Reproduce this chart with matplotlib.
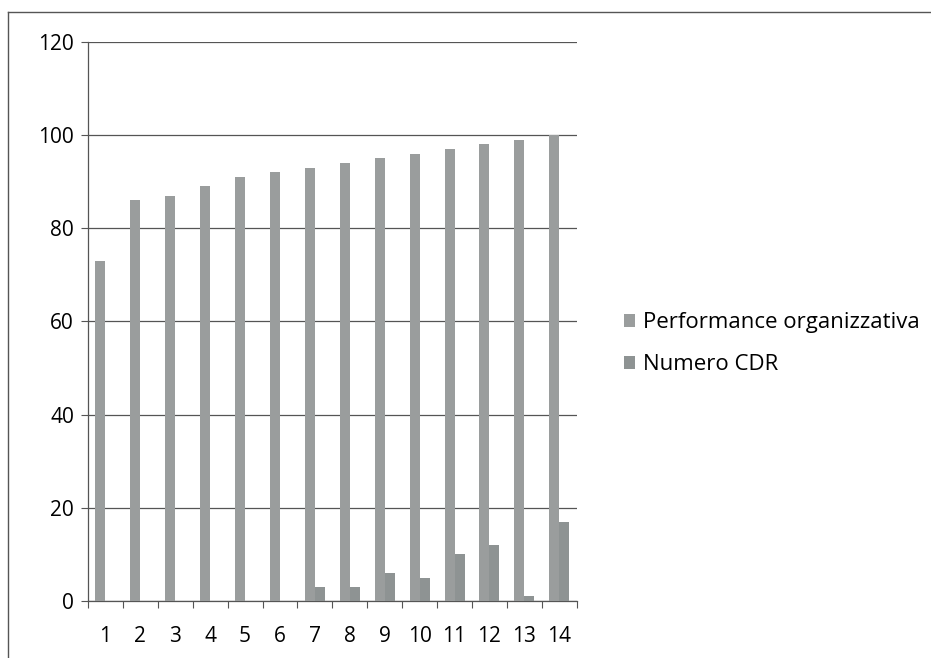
import numpy as np
import matplotlib.pyplot as plt
from matplotlib.lines import Line2D

# dati
categorie = [str(i) for i in range(1, 15)]
performance = [73, 86, 87, 89, 91, 92, 93, 94, 95, 96, 97, 98, 99, 100]
numero_cdr = [0, 0, 0, 0, 0, 0, 3, 3, 6, 5, 10, 12, 1, 17]

plt.rcParams['font.family'] = ['Open Sans', 'DejaVu Sans']

fig = plt.figure(figsize=(9.31, 6.58), dpi=100)
ax = fig.add_axes([0.0945, 0.0866, 0.525, 0.85])

x = np.arange(1, len(categorie) + 1)
w = 1 / 3.5
ax.bar(x - w / 2, performance, width=w, color='#9a9d9d', label='Performance organizzativa', zorder=3)
ax.bar(x + w / 2, numero_cdr, width=w, color='#8e9393', label='Numero CDR', zorder=3)

ax.set_xlim(0.5, len(categorie) + 0.5)
ax.set_ylim(0, 120)
ax.set_yticks(range(0, 121, 20))
ax.set_xticks(x)
ax.set_xticklabels(categorie)
ax.set_xticks(np.arange(0.5, len(categorie) + 1), minor=True)
ax.tick_params(axis='x', which='major', length=0, labelsize=15, pad=18)
ax.tick_params(axis='x', which='minor', length=5, width=0.8, color='#555555')
ax.tick_params(axis='y', length=5, width=0.8, color='#555555', labelsize=15, pad=5)
ax.grid(axis='y', color='#555555', linewidth=0.9, zorder=0)
for s in ['top', 'right']:
    ax.spines[s].set_visible(False)
for s in ['left', 'bottom']:
    ax.spines[s].set_color('#555555')
    ax.spines[s].set_linewidth(0.9)

ax.legend(loc='center left', bbox_to_anchor=(1.055, 0.46), frameon=False,
          fontsize=16, handlelength=0.5, handleheight=0.5, labelspacing=0.95,
          handletextpad=0.35)

# bordo esterno (solo lato superiore e sinistro visibili)
fig.lines.append(Line2D([8 / 931, 1], [1 - 12 / 658, 1 - 12 / 658], transform=fig.transFigure,
                        color='#555555', linewidth=1.0))
fig.lines.append(Line2D([8 / 931, 8 / 931], [0, 1 - 12 / 658], transform=fig.transFigure,
                        color='#555555', linewidth=1.0))

fig.savefig('out.png', dpi=100)
